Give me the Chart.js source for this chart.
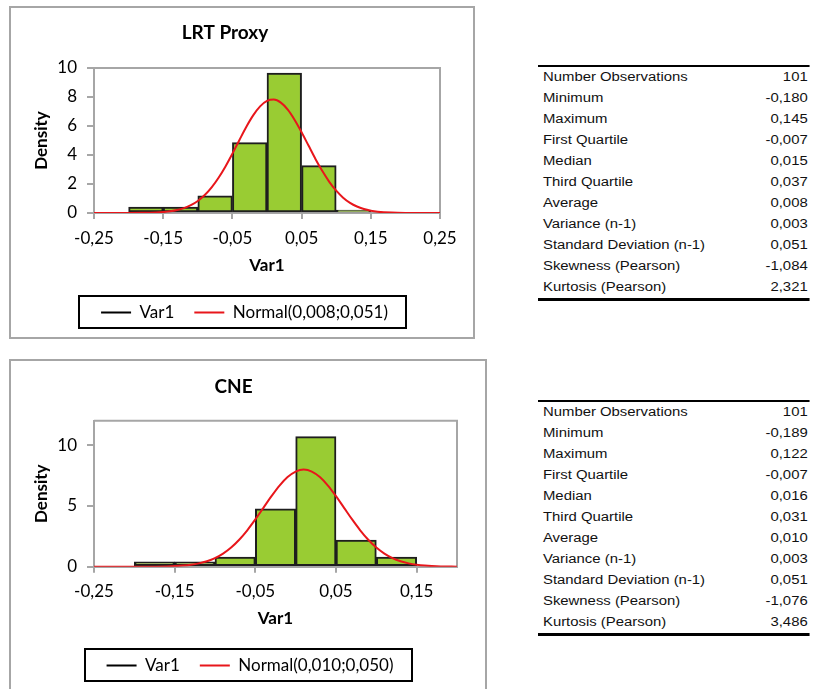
<!DOCTYPE html>
<html>
<head>
<meta charset="utf-8">
<script src="https://cdn.jsdelivr.net/npm/chart.js@4.4.1/dist/chart.umd.min.js"></script>
<style>
  html, body { margin:0; padding:0; background:#fff; overflow:hidden; }
  body { width:813px; height:689px; position:relative; }
  canvas { position:absolute; }
  .panel { position:absolute; box-sizing:border-box; border:2px solid #a6a6a6; pointer-events:none; }
  .tbl { position:absolute; box-sizing:border-box; border-top:2px solid #000; border-bottom:3px solid #000;
         transform:scaleX(1.24); transform-origin:0 0;
         font-family:"Liberation Sans", Arial, sans-serif; font-size:12px; color:#111; }
  .row { display:flex; justify-content:space-between; height:21px; line-height:21px; padding:0 1.5px 0 4px; white-space:nowrap; }
</style>
</head>
<body>
<canvas id="c1" width="465" height="334" style="left:10px;top:7px"></canvas>
<canvas id="c2" width="477" height="340" style="left:10px;top:360px"></canvas>
<div class="panel" style="left:9px;top:6px;width:466px;height:333px"></div>
<div class="panel" style="left:9px;top:359px;width:478px;height:345px"></div>
<div id="t1" class="tbl" style="left:538px;top:65px;width:219px"></div>
<div id="t2" class="tbl" style="left:538px;top:400px;width:219px"></div>
<script>
// ---------- data ----------
const title1 = 'LRT Proxy';
const title2 = 'CNE';
const binCenters = [-0.175, -0.125, -0.075, -0.025, 0.025, 0.075, 0.125];
const density1 = [0.40, 0.40, 1.19, 4.85, 9.65, 3.27, 0.20];
const density2 = [0.40, 0.40, 0.79, 4.75, 10.69, 2.18, 0.79];

const normX1 = [-0.25,-0.20,-0.18,-0.16,-0.15,-0.14,-0.13,-0.12,-0.11,-0.10,-0.09,-0.08,-0.07,-0.06,-0.05,-0.04,-0.03,-0.02,-0.01,0.00,0.01,0.02,0.03,0.04,0.05,0.06,0.07,0.08,0.09,0.10,0.11,0.12,0.13,0.14,0.15,0.16,0.18,0.20,0.25];
const normY1 = [0,0.002,0.009,0.034,0.064,0.116,0.201,0.335,0.538,0.831,1.236,1.766,2.43,3.215,4.096,5.02,5.93,6.73,7.35,7.73,7.82,7.61,7.13,6.42,5.57,4.65,3.73,2.89,2.15,1.54,1.06,0.70,0.447,0.275,0.162,0.092,0.027,0.007,0];
const normX2 = [-0.25,-0.20,-0.18,-0.16,-0.15,-0.14,-0.13,-0.12,-0.11,-0.10,-0.09,-0.08,-0.07,-0.06,-0.05,-0.04,-0.03,-0.02,-0.01,0.00,0.01,0.02,0.03,0.04,0.05,0.06,0.07,0.08,0.09,0.10,0.11,0.12,0.13,0.14,0.15,0.16,0.18,0.20];
const normY2 = [0,0.001,0.006,0.025,0.048,0.089,0.158,0.272,0.448,0.709,1.080,1.579,2.218,2.995,3.884,4.839,5.794,6.665,7.366,7.821,7.979,7.821,7.366,6.665,5.794,4.839,3.884,2.995,2.218,1.579,1.080,0.709,0.448,0.272,0.158,0.089,0.025,0.006];

const xTicks1 = [-0.25, -0.15, -0.05, 0.05, 0.15, 0.25];
const xTickLabels1 = ['-0,25', '-0,15', '-0,05', '0,05', '0,15', '0,25'];
const xTicks2 = [-0.25, -0.15, -0.05, 0.05, 0.15];
const xTickLabels2 = ['-0,25', '-0,15', '-0,05', '0,05', '0,15'];
const yTicks1 = [0, 2, 4, 6, 8, 10];
const yTicks2 = [0, 5, 10];
const legendLabels1 = ['Var1', 'Normal(0,008;0,051)'];
const legendLabels2 = ['Var1', 'Normal(0,010;0,050)'];

const statLabels = ['Number Observations','Minimum','Maximum','First Quartile','Median','Third Quartile','Average','Variance (n-1)','Standard Deviation (n-1)','Skewness (Pearson)','Kurtosis (Pearson)'];
const stats1 = ['101','-0,180','0,145','-0,007','0,015','0,037','0,008','0,003','0,051','-1,084','2,321'];
const stats2 = ['101','-0,189','0,122','-0,007','0,016','0,031','0,010','0,003','0,051','-1,076','3,486'];

// ---------- tables ----------
function buildTable(id, vals) {
  const el = document.getElementById(id);
  statLabels.forEach((l, i) => {
    const r = document.createElement('div');
    r.className = 'row';
    const a = document.createElement('span'); a.textContent = l;
    const b = document.createElement('span'); b.textContent = vals[i];
    r.appendChild(a); r.appendChild(b); el.appendChild(r);
  });
}
buildTable('t1', stats1);
buildTable('t2', stats2);

// ---------- charts ----------
const GRAY = '#a6a6a6';
const FONT = 'Lato, "Open Sans", sans-serif';

const frameAndLegendBox = {
  id: 'frameAndLegendBox',
  afterUpdate(chart, args, opts) {
    const lg = chart.legend;
    if (!lg || !lg.legendHitBoxes) return;
    const dx = opts.legendShift || 0;
    lg.left += dx; lg.right += dx;
    lg.legendHitBoxes.forEach(h => { h.left += dx; });
  },
  beforeDatasetsDraw(chart) {
    const {ctx, chartArea: a} = chart;
    ctx.save();
    ctx.strokeStyle = GRAY; ctx.lineWidth = 2;
    ctx.beginPath();
    ctx.moveTo(a.left, a.top); ctx.lineTo(a.right, a.top); ctx.lineTo(a.right, a.bottom);
    ctx.stroke();
    ctx.restore();
  },
  afterDraw(chart) {
    const hb = chart.legend && chart.legend.legendHitBoxes;
    if (!hb || !hb.length) return;
    const last = hb[hb.length - 1];
    const x0 = hb[0].left - 22, x1 = last.left + last.width + 18;
    const yc = hb[0].top + hb[0].height / 2;
    const ctx = chart.ctx;
    ctx.save();
    ctx.strokeStyle = '#000'; ctx.lineWidth = 2;
    ctx.strokeRect(Math.round(x0), Math.round(yc - 17), Math.round(x1 - x0), 32);
    ctx.restore();
  }
};

function makeChart(id, cfg) {
  const bars = binCenters.map((x, i) => ({x: x, y: cfg.density[i]}));
  const curve = cfg.normX.map((x, i) => ({x: x, y: cfg.normY[i]}));
  return new Chart(document.getElementById(id), {
    type: 'bar',
    data: {
      datasets: [
        { type: 'line', label: cfg.legend[1], data: curve, borderColor: '#e8161b', borderWidth: 2,
          pointRadius: 0, fill: false, cubicInterpolationMode: 'monotone', order: 1 },
        { type: 'bar', label: cfg.legend[0], data: bars, backgroundColor: '#99cc33', borderColor: '#1e1e1e',
          borderWidth: 2, borderSkipped: false, barPercentage: 1, categoryPercentage: 1, grouped: false, order: 2 }
      ]
    },
    options: {
      responsive: false, animation: false,
      layout: { padding: { top: 0, left: 0, right: cfg.padRight, bottom: cfg.padBottom } },
      plugins: {
        frameAndLegendBox: { legendShift: cfg.legendShift },
        tooltip: { enabled: false },
        title: { display: true, text: cfg.title, color: '#000',
                 font: { family: FONT, size: 19, weight: 'bold' },
                 padding: { top: cfg.titleTop, bottom: cfg.titleBottom } },
        legend: {
          display: true, position: 'bottom',
          labels: {
            color: '#000', font: { family: FONT, size: 17 }, padding: 20,
            usePointStyle: true, pointStyleWidth: 30,
            generateLabels: () => [
              { text: cfg.legend[0], pointStyle: 'line', strokeStyle: '#000', fillStyle: '#000', lineWidth: 2, datasetIndex: 1, fontColor: '#000' },
              { text: cfg.legend[1], pointStyle: 'line', strokeStyle: '#e8161b', fillStyle: '#e8161b', lineWidth: 2, datasetIndex: 0, fontColor: '#000' }
            ]
          }
        }
      },
      scales: {
        x: {
          type: 'linear', min: cfg.xMin, max: cfg.xMax, offset: false,
          afterBuildTicks: s => { s.ticks = cfg.xTicks.map(v => ({value: v})); },
          afterFit: s => { s.height = cfg.xHeight; },
          ticks: { autoSkip: false, maxRotation: 0, color: '#000', padding: 9,
                   font: { family: FONT, size: 17 },
                   callback: (v, i) => cfg.xLabels[i] },
          grid: { display: true, drawOnChartArea: false, drawTicks: true, tickLength: 6, color: GRAY, lineWidth: 2, offset: false },
          border: { display: true, color: GRAY, width: 2 },
          title: { display: true, text: 'Var1', color: '#000', font: { family: FONT, size: 17, weight: 'bold' },
                   padding: { top: 0, bottom: cfg.xTitleBottom } }
        },
        y: {
          min: 0, max: cfg.yMax,
          afterBuildTicks: s => { s.ticks = cfg.yTicks.map(v => ({value: v})); },
          afterFit: s => { s.width = 84; },
          ticks: { color: '#000', padding: 10, font: { family: FONT, size: 17 } },
          grid: { display: true, drawOnChartArea: false, drawTicks: true, tickLength: 7, color: GRAY, lineWidth: 2 },
          border: { display: true, color: GRAY, width: 2 },
          title: { display: true, text: 'Density', color: '#000', font: { family: FONT, size: 17, weight: 'bold' },
                   padding: { top: 21, bottom: 0 } }
        }
      }
    },
    plugins: [frameAndLegendBox]
  });
}

makeChart('c1', { title: title1, density: density1, normX: normX1, normY: normY1,
  xTicks: xTicks1, xLabels: xTickLabels1, yTicks: yTicks1, legend: legendLabels1,
  xMin: -0.25, xMax: 0.25, yMax: 10, legendShift: 19.5,
  padRight: 35, padBottom: 10, titleTop: 14.6, titleBottom: 23.6, xHeight: 71, xTitleBottom: 8 });

makeChart('c2', { title: title2, density: density2, normX: normX2, normY: normY2,
  xTicks: xTicks2, xLabels: xTickLabels2, yTicks: yTicks2, legend: legendLabels2,
  xMin: -0.25, xMax: 0.20, yMax: 12, legendShift: 16.5,
  padRight: 30, padBottom: 16, titleTop: 15.3, titleBottom: 22.6, xHeight: 70.3, xTitleBottom: 8 });
</script>
</body>
</html>
